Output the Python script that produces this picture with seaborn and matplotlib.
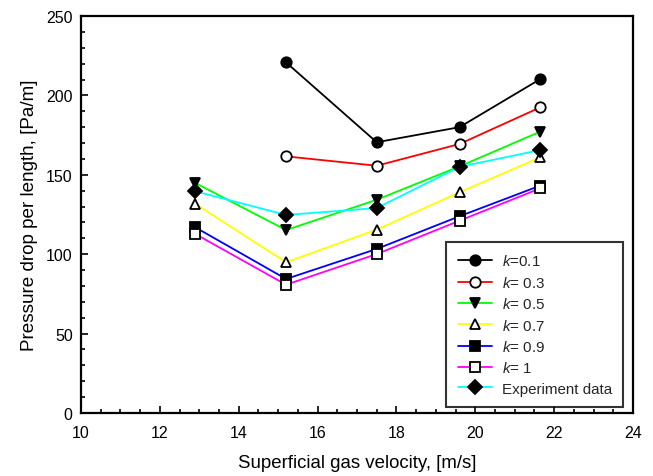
import matplotlib
matplotlib.use("Agg")
import matplotlib.pyplot as plt
from matplotlib.ticker import MultipleLocator
import seaborn as sns
import pandas as pd

sns.set_theme(style="white")
plt.rcParams['font.family'] = ['Liberation Sans', 'DejaVu Sans']
plt.rcParams['mathtext.fontset'] = 'custom'
plt.rcParams['mathtext.it'] = 'Liberation Sans:italic'
plt.rcParams['mathtext.rm'] = 'Liberation Sans'

velocity_all = [12.9, 15.2, 17.5, 19.6, 21.65]
velocity_hi = [15.2, 17.5, 19.6, 21.65]

k01 = [220.8, 170.5, 180.0, 210.3]
k03 = [161.6, 155.7, 169.4, 192.5]
k05 = [144.8, 115.2, 134.3, 155.3, 177.2]
k07 = [131.6, 94.9, 115.5, 139.0, 161.0]
k09 = [116.9, 84.4, 103.3, 123.9, 143.2]
k10 = [112.7, 80.8, 100.1, 121.1, 141.5]
experiment = [139.6, 124.7, 129.1, 155.0, 165.6]

labels = ["$k$=0.1", "$k$= 0.3", "$k$= 0.5", "$k$= 0.7", "$k$= 0.9", "$k$= 1", "Experiment data"]

series = [
    (velocity_hi, k01, labels[0], "black", "o", "black"),
    (velocity_hi, k03, labels[1], "#ff0000", "o", "white"),
    (velocity_all, k05, labels[2], "#00ff00", "v", "black"),
    (velocity_all, k07, labels[3], "#ffff00", "^", "white"),
    (velocity_all, k09, labels[4], "#0000ff", "s", "black"),
    (velocity_all, k10, labels[5], "#ff00ff", "s", "white"),
    (velocity_all, experiment, labels[6], "#00ffff", "D", "black"),
]

fig = plt.figure(figsize=(6.53, 4.77), dpi=100)
ax = fig.add_axes([81/653, 1-414/477, (633-81)/653, (414-17)/477])

for xs, ys, lab, col, mk, face in series:
    df = pd.DataFrame({"x": xs, "y": ys})
    sns.lineplot(data=df, x="x", y="y", ax=ax, color=col, marker=mk,
                 markerfacecolor=face, markeredgecolor="black",
                 markeredgewidth=1.3, markersize=7.5 if mk != "D" else 7,
                 linewidth=1.3, label=lab, sort=False)

ax.set_xlim(10, 24)
ax.set_ylim(0, 250)
ax.xaxis.set_major_locator(MultipleLocator(2))
ax.xaxis.set_minor_locator(MultipleLocator(0.5))
ax.yaxis.set_major_locator(MultipleLocator(50))
ax.yaxis.set_minor_locator(MultipleLocator(10))
ax.tick_params(which="both", direction="in", bottom=True, left=True,
               top=False, right=False, colors="black", labelsize=11.5, width=1.2)
ax.tick_params(which="major", length=5)
ax.tick_params(which="minor", length=3)
ax.tick_params(axis="x", which="major", pad=8.5)
ax.tick_params(axis="y", which="major", pad=6)
for s in ax.spines.values():
    s.set_color("black")
    s.set_linewidth(1.6)

ax.set_xlabel("Superficial gas velocity, [m/s]", fontsize=13.4, labelpad=10, color="black")
ax.set_ylabel("Pressure drop per length, [Pa/m]", fontsize=13.6, labelpad=6, color="black")

leg = ax.legend(loc="lower right", bbox_to_anchor=(623/653, 1-408/477),
                bbox_transform=fig.transFigure, fontsize=10.9, frameon=True,
                fancybox=False, edgecolor="black", handlelength=2.3,
                labelspacing=0.42, borderpad=0.75, handletextpad=0.6,
                borderaxespad=0)
leg.get_frame().set_linewidth(1.5)

fig.savefig("out.png", dpi=100)
